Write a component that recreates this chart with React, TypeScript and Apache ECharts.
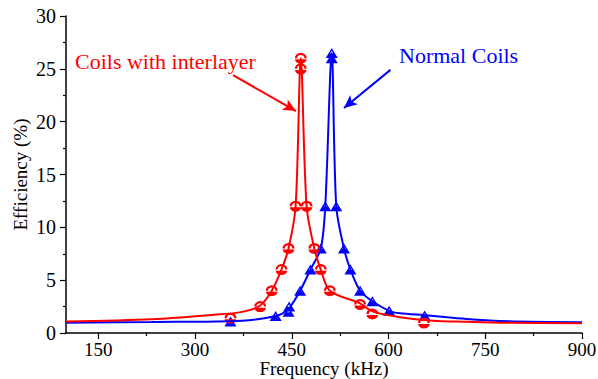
import React, { useEffect, useRef } from "react";
import * as echarts from "echarts";

// Measured markers (frequency kHz, efficiency %)
const redMarkerX = [355, 401, 419, 434, 445, 456, 464, 464, 473, 485, 495, 509, 556, 575, 655];
const redMarkerY = [1.4, 2.5, 4.0, 6.0, 8.0, 12.0, 25.0, 26.0, 12.0, 8.0, 6.0, 4.0, 2.7, 1.8, 0.95];
const blueMarkerX = [355, 425, 445, 446, 463, 479, 495, 502, 512, 512, 519, 531, 541, 556, 575, 601, 656];
const blueMarkerY = [1.1, 1.6, 2.0, 2.5, 4.0, 6.0, 8.0, 12.0, 26.0, 26.5, 12.0, 8.0, 6.0, 4.0, 3.0, 2.1, 1.65];

// Fitted curves
const redCurveX = [100, 233, 326, 373, 401, 419, 434, 445, 456, 464, 473, 485, 495, 509, 556, 575, 618, 669, 721, 773, 900];
const redCurveY = [1.08, 1.3, 1.7, 2.0, 2.6, 4.0, 6.0, 8.0, 12.0, 26.0, 12.0, 8.0, 6.0, 4.0, 2.8, 2.05, 1.5, 1.17, 1.07, 0.98, 0.93];
const blueCurveX = [100, 233, 373, 425, 445, 463, 479, 495, 502, 512, 519, 531, 541, 556, 575, 601, 618, 656, 721, 773, 900];
const blueCurveY = [0.97, 1.04, 1.17, 1.6, 2.3, 4.0, 6.0, 8.0, 12.0, 26.5, 12.0, 8.0, 6.0, 4.0, 3.0, 2.1, 1.86, 1.68, 1.32, 1.13, 1.02];

const xLabelValues = [150, 300, 450, 600, 750, 900];
const xMinorValues = [225, 375, 525, 675, 825];

const FONT = "'Liberation Serif', 'Times New Roman', serif";
const RED = "#ff0000";
const BLUE = "#0000ff";

// half-filled circle: outlined top half, solid bottom half, white gap between
const circleHalf =
  "path://M0,50 A50,50 0 0 1 100,50 L80,50 A30,30 0 0 0 20,50 Z M1.01,60 L98.99,60 A50,50 0 0 1 1.01,60 Z";
// half-filled triangle: outlined top part, solid bottom part
const triangleHalf =
  "path://M50,0 L77.5,55 L64,55 L50,27 L36,55 L22.5,55 Z M22.5,55 L77.5,55 L100,100 L0,100 Z";

const zip = (xs: number[], ys: number[]) => xs.map((x, i) => [x, ys[i]]);

export default function App() {
  const ref = useRef<HTMLDivElement>(null);
  useEffect(() => {
    if (!ref.current) return;
    const chart = echarts.init(ref.current, null, { renderer: "svg" });
    chart.setOption({
      animation: false,
      backgroundColor: "#ffffff",
      textStyle: { fontFamily: FONT },
      grid: { left: 66, right: 16, top: 16, bottom: 46, outerBoundsMode: "none", containLabel: false },
      xAxis: [
        {
          type: "value",
          min: 100,
          max: 900,
          name: "Frequency (kHz)",
          nameLocation: "middle",
          nameGap: 26,
          nameMoveOverlap: false,
          nameTextStyle: { fontFamily: FONT, fontSize: 19, lineHeight: 19, color: "#000" },
          axisLine: { show: true, lineStyle: { color: "#000", width: 1.5 } },
          axisTick: { show: true, inside: false, length: 6, customValues: xLabelValues, lineStyle: { color: "#000", width: 1.2 } },
          axisLabel: { customValues: xLabelValues, fontFamily: FONT, fontSize: 19, lineHeight: 19, color: "#000", margin: 7 },
          splitLine: { show: false },
        },
        {
          type: "value",
          min: 100,
          max: 900,
          position: "bottom",
          axisLine: { show: false },
          axisTick: { show: true, inside: false, length: 3, customValues: xMinorValues, lineStyle: { color: "#000", width: 1.2 } },
          axisLabel: { show: false },
          splitLine: { show: false },
        },
      ],
      yAxis: {
        type: "value",
        min: 0,
        max: 30,
        interval: 5,
        name: "Efficiency (%)",
        nameLocation: "middle",
        nameGap: 36,
        nameMoveOverlap: false,
        nameTextStyle: { fontFamily: FONT, fontSize: 19, color: "#000" },
        axisLine: { show: true, lineStyle: { color: "#000", width: 1.5 } },
        axisTick: { show: true, inside: false, length: 6, lineStyle: { color: "#000", width: 1.2 } },
        minorTick: { show: true, splitNumber: 2, length: 3, lineStyle: { color: "#000", width: 1.2 } },
        axisLabel: { fontFamily: FONT, fontSize: 20, color: "#000", margin: 10 },
        splitLine: { show: false },
      },
      series: [
        {
          name: "Normal Coils fit",
          type: "line",
          data: zip(blueCurveX, blueCurveY),
          smooth: 0.3,
          showSymbol: false,
          lineStyle: { color: BLUE, width: 2 },
          markLine: {
            silent: true,
            symbol: ["none", "arrow"],
            symbolSize: [9, 13],
            label: { show: false },
            lineStyle: { color: BLUE, width: 2, type: "solid" },
            data: [[{ coord: [603, 24.9] }, { coord: [531, 21.3] }]],
          },
        },
        {
          name: "Coils with interlayer fit",
          type: "line",
          data: zip(redCurveX, redCurveY),
          smooth: 0.3,
          showSymbol: false,
          lineStyle: { color: RED, width: 2 },
          markLine: {
            silent: true,
            symbol: ["none", "arrow"],
            symbolSize: [9, 13],
            label: { show: false },
            lineStyle: { color: RED, width: 2, type: "solid" },
            data: [[{ coord: [359, 24.4] }, { coord: [456.6, 21.0] }]],
          },
        },
        {
          name: "Normal Coils",
          type: "scatter",
          data: zip(blueMarkerX, blueMarkerY),
          symbol: triangleHalf,
          symbolSize: [12, 10],
          itemStyle: { color: BLUE, opacity: 1 },
        },
        {
          name: "Coils with interlayer",
          type: "scatter",
          data: zip(redMarkerX, redMarkerY),
          symbol: circleHalf,
          symbolSize: [12, 11],
          itemStyle: { color: RED, opacity: 1 },
        },
      ],
      graphic: [
        {
          type: "text",
          left: 75,
          top: 50,
          style: { text: "Coils with interlayer", fill: RED, fontFamily: FONT, fontSize: 22 },
        },
        {
          type: "text",
          left: 399,
          top: 44,
          style: { text: "Normal Coils", fill: BLUE, fontFamily: FONT, fontSize: 22 },
        },
      ],
    });
    return () => chart.dispose();
  }, []);
  return (
    <div
      ref={ref}
      style={{ position: "fixed", left: 0, top: 0, width: 598, height: 379, background: "#fff" }}
    />
  );
}
